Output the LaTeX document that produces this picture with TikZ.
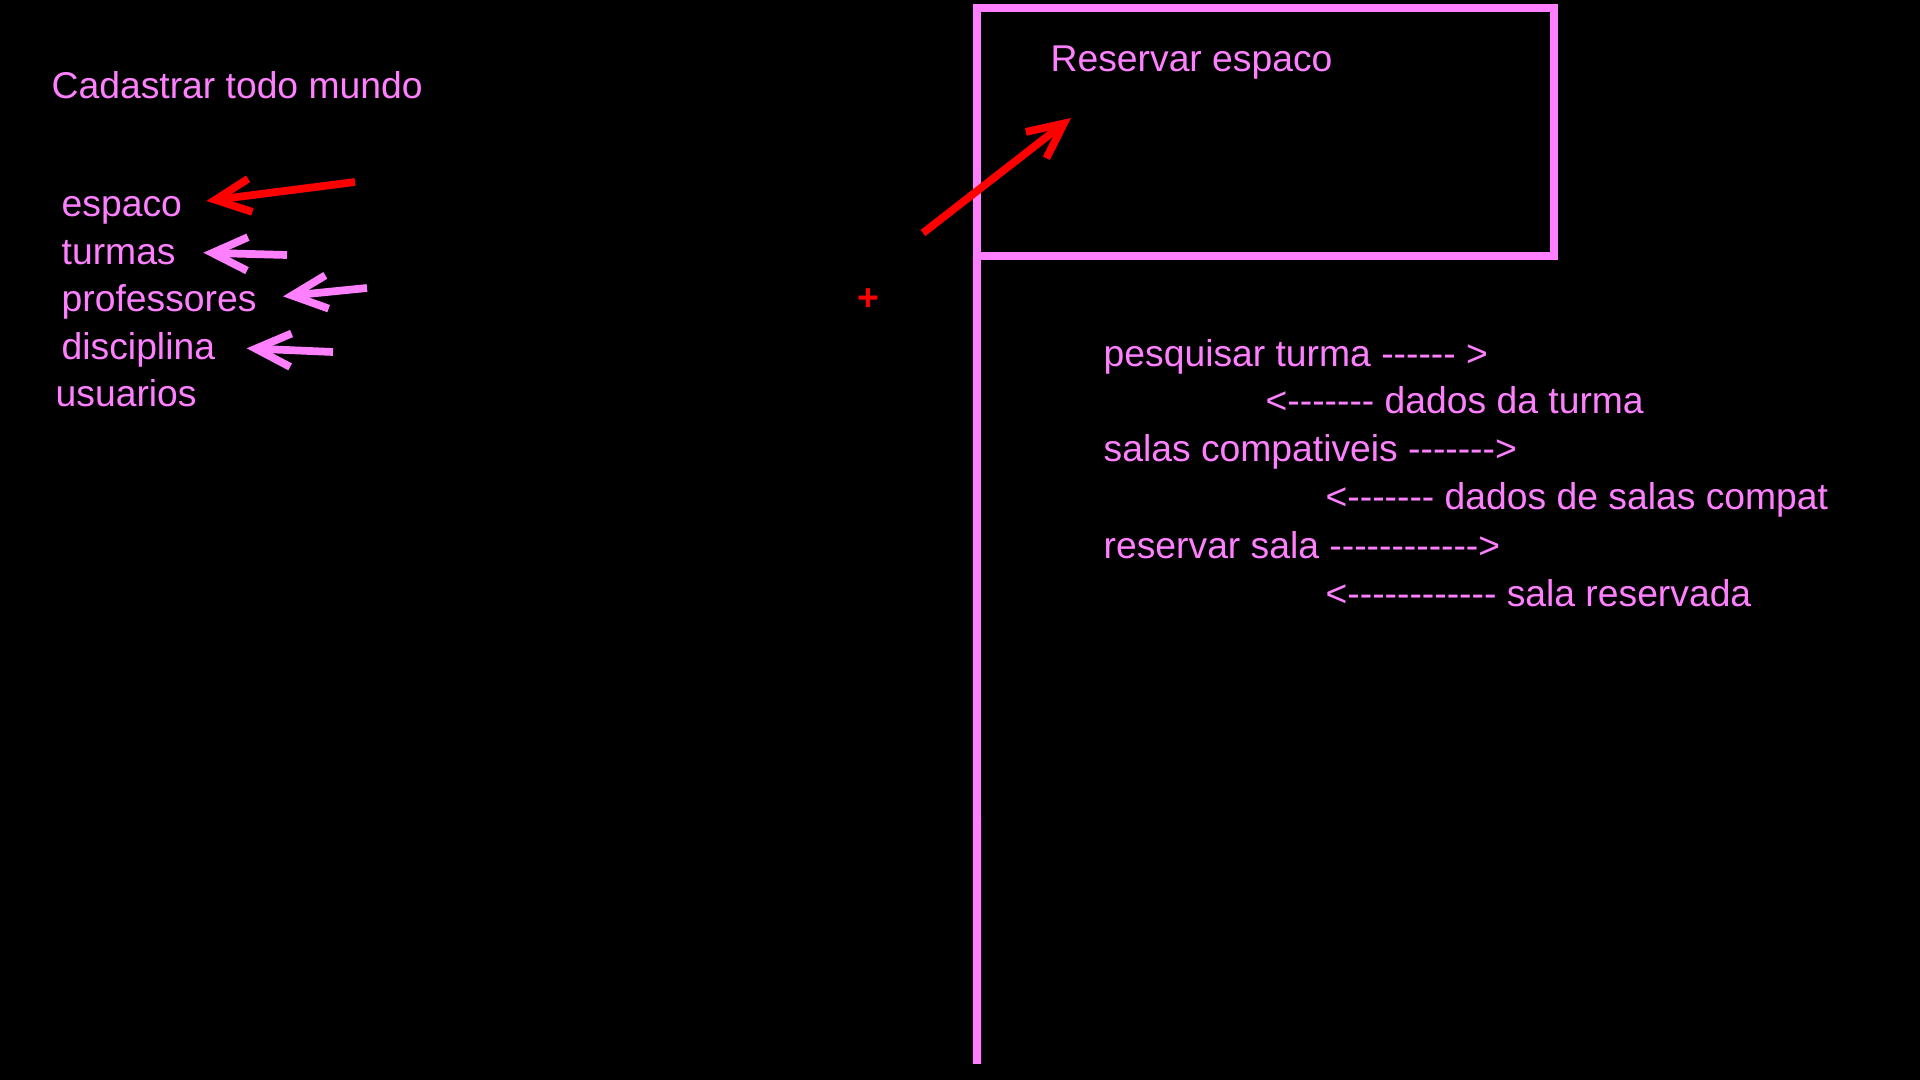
\documentclass[tikz,border=0pt]{standalone}
\usepackage{fontspec}
\usepackage{xcolor}
\usepackage{tikz}
\usetikzlibrary{arrows.meta, positioning}
\newfontfamily\sketchfont{Liberation Sans}
\definecolor{sketchpink}{RGB}{255,128,255}
\definecolor{sketchred}{RGB}{255,0,0}
\tikzstyle{entry} = [anchor=base west, inner sep=0pt, text height=0.26cm, text depth=0pt, text=sketchpink, font=\sketchfont\fontsize{10.6pt}{12pt}\selectfont]
\tikzstyle{usecase} = [rectangle, draw=sketchpink, line width=2.3pt, minimum width=5.77cm, minimum height=2.48cm, inner sep=0pt, outer sep=0pt]
\tikzstyle{lifeline} = [draw=sketchpink, line width=2.3pt]
\tikzstyle{redarrow} = [line width=2.2pt, draw=sketchred, -{Straight Barb[length=10pt, width=9.5pt]}]
\tikzstyle{pinkarrow} = [line width=2.2pt, draw=sketchpink, -{Straight Barb[length=10pt, width=9.5pt]}]

\begin{document}
\begin{tikzpicture}[x=0.01cm, y=-0.01cm]
    \fill[black] (0,0) rectangle (1920,1080);

    % cadastro
    \node (cadastro) [entry] at (51,99) {Cadastrar todo mundo};
    \node (espaco) [entry] at (61,217) {espaco};
    \node (turmas) [entry] at (61,265) {turmas};
    \node (professores) [entry] at (61,312) {professores};
    \node (disciplina) [entry] at (61,360) {disciplina};
    \node (usuarios) [entry] at (55,407) {usuarios};

    \coordinate (espaco tail) at (355,182);
    \coordinate (turmas tail) at (287,255);
    \coordinate (professores tail) at (367,288);
    \coordinate (disciplina tail) at (333,352);

    \draw [redarrow, shorten >=0.24cm] (espaco tail) -- (espaco.east);
    \draw [pinkarrow, shorten >=0.27cm] (turmas tail) -- (turmas.east);
    \draw [pinkarrow, shorten >=0.26cm] (professores tail) -- (professores.east);
    \draw [pinkarrow, shorten >=0.31cm] (disciplina tail) -- (disciplina.east);

    \node (mark) [entry, text=sketchred, font=\sketchfont\bfseries\fontsize{10.6pt}{12pt}\selectfont] at (857,311) {+};

    % reserva
    \node (reserva) [usecase] at (1265.5,132) {};
    \node (titulo) [entry] at (1050,72) {Reservar espaco};
    \coordinate (lifeline end) at (977,1064);
    \draw [lifeline] (reserva.south west) -- (lifeline end);

    \coordinate (reserva tail) at (923,233);
    \coordinate (reserva tip) at (1071,118);
    \draw [redarrow] (reserva tail) -- (reserva tip);

    \node (msg1) [entry] at (1103,367) {pesquisar turma ------ >};
    \node (msg2) [entry] at (1265,414) {<------- dados da turma};
    \node (msg3) [entry] at (1103,462) {salas compativeis ------->};
    \node (msg4) [entry] at (1325,510) {<------- dados de salas compat};
    \node (msg5) [entry] at (1103,559) {reservar sala ------------>};
    \node (msg6) [entry] at (1325,607) {<------------ sala reservada};
\end{tikzpicture}
\end{document}
